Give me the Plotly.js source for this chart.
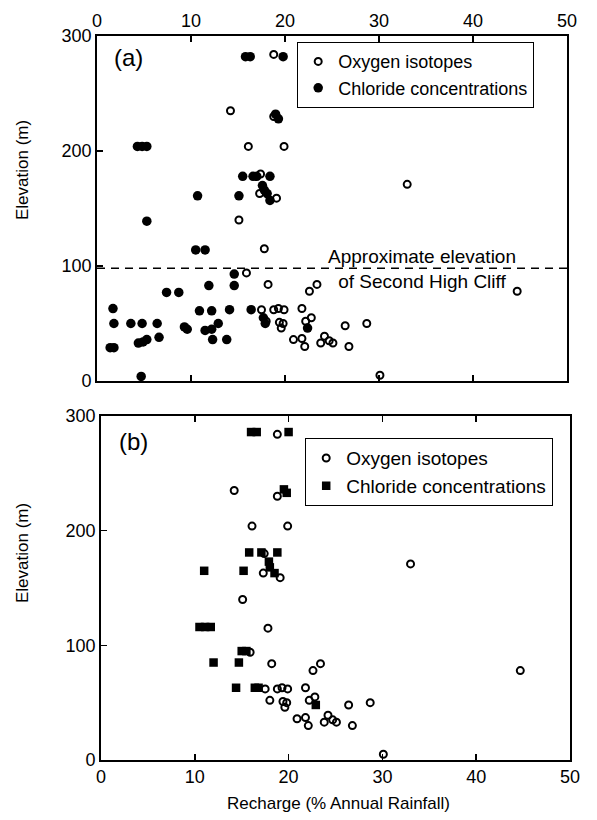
<!DOCTYPE html>
<html>
<head>
<meta charset="utf-8">
<script src="https://cdn.plot.ly/plotly-3.0.1.min.js"></script>
<style>html,body{margin:0;padding:0;background:#fff;}#chart{width:597px;height:820px;}</style>
</head>
<body>
<div id="chart"></div>
<script>
// Oxygen isotopes (same estimates in both panels)
const oxyX = [18.8, 14.2, 18.8, 16.1, 19.9, 17.4, 17.3, 19.1, 15.1, 17.8, 15.9, 18.2, 22.6, 23.4,
              17.5, 18.8, 19.3, 19.9, 21.8, 18.0, 19.4, 19.8, 19.6, 22.2, 22.8, 26.4, 28.7,
              20.9, 21.8, 22.1, 23.8, 24.2, 24.7, 25.1, 26.8, 30.1, 33.0, 44.7];
const oxyY = [284, 235, 230, 204, 204, 180, 163, 159, 140, 115, 94, 84, 78, 84,
              62, 62, 63, 62, 63, 52, 51, 50, 46, 52, 55, 48, 50,
              36, 37, 30, 33, 39, 35, 33, 30, 5, 171, 78];

// Chloride concentrations, panel (a)
const clAX = [15.8, 16.3, 19.8, 19.0, 19.3, 4.3, 4.8, 5.3, 15.5, 16.6, 17.0, 18.4, 17.6, 17.8,
              10.7, 15.1, 18.1, 18.4, 5.3, 10.5, 11.5, 14.6, 7.4, 8.7, 11.9, 14.6, 1.7,
              10.9, 12.2, 14.1, 16.4, 1.8, 3.6, 4.8, 6.4, 9.3, 9.6, 11.5, 12.2, 12.9,
              17.7, 17.9, 22.4, 1.4, 1.8, 4.4, 4.9, 5.3, 6.6, 12.3, 13.8, 4.7];
const clAY = [282, 282, 282, 232, 228, 204, 204, 204, 178, 178, 178, 178, 170, 166,
              161, 161, 163, 157, 139, 114, 114, 93, 77, 77, 83, 83, 63,
              61, 61, 62, 62, 50, 50, 50, 50, 47, 45, 44, 45, 50,
              55, 50, 46, 29, 29, 33, 34, 36, 38, 36, 36, 4];

// Chloride concentrations, panel (b)
const clBX = [16.0, 16.6, 20.0, 19.5, 19.8, 15.8, 17.1, 18.8, 17.9, 18.0, 18.5, 11.0, 15.2,
              10.5, 11.1, 11.7, 15.0, 15.5, 12.0, 14.7, 14.4, 16.4, 16.8, 22.9];
const clBY = [286, 286, 286, 236, 233, 181, 181, 181, 173, 168, 163, 165, 165,
              116, 116, 116, 95, 95, 85, 85, 63, 63, 63, 48];

const legendNames = ['Oxygen isotopes', 'Chloride concentrations'];
const panelLabels = ['(a)', '(b)'];
const xTitle = 'Recharge (% Annual Rainfall)';
const yTitle = 'Elevation (m)';
const cliffElev = 98;
const cliffText = 'Approximate elevation<br>of Second High Cliff';

const FONT = '"Liberation Sans", Arial, Helvetica, sans-serif';
const W = 597, H = 820, T = 36, B = 60;
const ph = H - T - B;
const py = p => (H - B - p) / ph;   // pixel y -> paper
const px = p => p / W;              // pixel x -> paper

const traces = [
  {x: oxyX, y: oxyY, xaxis: 'x', yaxis: 'y', mode: 'markers', type: 'scatter', name: legendNames[0],
   legend: 'legend', marker: {symbol: 'circle-open', size: 7, color: '#000', line: {width: 2, color: '#000'}}},
  {x: clAX, y: clAY, xaxis: 'x', yaxis: 'y', mode: 'markers', type: 'scatter', name: legendNames[1],
   legend: 'legend', marker: {symbol: 'circle', size: 9.5, color: '#000'}},
  {x: oxyX, y: oxyY, xaxis: 'x2', yaxis: 'y2', mode: 'markers', type: 'scatter', name: legendNames[0],
   legend: 'legend2', marker: {symbol: 'circle-open', size: 7, color: '#000', line: {width: 2, color: '#000'}}},
  {x: clBX, y: clBY, xaxis: 'x2', yaxis: 'y2', mode: 'markers', type: 'scatter', name: legendNames[1],
   legend: 'legend2', marker: {symbol: 'square', size: 8.5, color: '#000'}}
];

const axBase = {
  range: [0, 50], dtick: 10, tick0: 0, ticks: 'inside', ticklen: 6, tickwidth: 1.5, tickcolor: '#000',
  showline: true, linecolor: '#000', linewidth: 1.8, showgrid: false, zeroline: false,
  tickfont: {family: FONT, size: 18, color: '#000'}, fixedrange: true
};
const ayBase = {
  range: [0, 300], dtick: 100, tick0: 0, ticks: 'inside', ticklen: 6, tickwidth: 1.5, tickcolor: '#000',
  showline: true, linecolor: '#000', linewidth: 1.8, showgrid: false, zeroline: false, mirror: true,
  tickfont: {family: FONT, size: 18, color: '#000'}, fixedrange: true
};

const layout = {
  width: W, height: H,
  margin: {l: 0, r: 0, t: T, b: B, pad: 0},
  paper_bgcolor: '#fff', plot_bgcolor: '#fff',
  font: {family: FONT, color: '#000'},
  showlegend: true,
  xaxis: Object.assign({}, axBase, {domain: [px(97), px(567)], anchor: 'y', side: 'top', mirror: 'ticks'}),
  yaxis: Object.assign({}, ayBase, {domain: [py(381), 1], anchor: 'x'}),
  xaxis2: Object.assign({}, axBase, {domain: [px(101), px(570)], anchor: 'y2', side: 'bottom', mirror: 'ticks'}),
  yaxis2: Object.assign({}, ayBase, {domain: [0, py(416)], anchor: 'x2'}),
  legend: {x: px(297), xanchor: 'left', y: py(42), yanchor: 'top', bgcolor: '#fff',
           bordercolor: '#000', borderwidth: 1.2, font: {family: FONT, size: 18, color: '#000'},
           itemwidth: 30, tracegroupgap: 0},
  legend2: {x: px(305), xanchor: 'left', y: py(438), yanchor: 'top', bgcolor: '#fff',
            bordercolor: '#000', borderwidth: 1.2, font: {family: FONT, size: 19, color: '#000'},
            itemwidth: 30, tracegroupgap: 0},
  shapes: [
    {type: 'line', xref: 'x', yref: 'y', x0: 0, x1: 50, y0: cliffElev, y1: cliffElev,
     line: {color: '#000', width: 1.5, dash: '8px,6px'}}
  ],
  annotations: [
    {xref: 'paper', yref: 'paper', x: px(128), y: py(57), text: panelLabels[0], showarrow: false,
     font: {family: FONT, size: 24, color: '#000'}, xanchor: 'center', yanchor: 'middle'},
    {xref: 'paper', yref: 'paper', x: px(133), y: py(441), text: panelLabels[1], showarrow: false,
     font: {family: FONT, size: 24, color: '#000'}, xanchor: 'center', yanchor: 'middle'},
    {xref: 'paper', yref: 'paper', x: px(422), y: py(269), text: cliffText, showarrow: false,
     font: {family: FONT, size: 19, color: '#000'}, xanchor: 'center', yanchor: 'middle', align: 'center'},
    {xref: 'paper', yref: 'paper', x: px(22), y: py(170), text: yTitle, showarrow: false, textangle: -90,
     font: {family: FONT, size: 17, color: '#000'}, xanchor: 'center', yanchor: 'middle'},
    {xref: 'paper', yref: 'paper', x: px(22), y: py(553), text: yTitle, showarrow: false, textangle: -90,
     font: {family: FONT, size: 17, color: '#000'}, xanchor: 'center', yanchor: 'middle'},
    {xref: 'paper', yref: 'paper', x: px(338), y: py(803), text: xTitle, showarrow: false,
     font: {family: FONT, size: 17, color: '#000'}, xanchor: 'center', yanchor: 'middle'}
  ]
};

Plotly.newPlot('chart', traces, layout, {displayModeBar: false, staticPlot: true});
</script>
</body>
</html>
